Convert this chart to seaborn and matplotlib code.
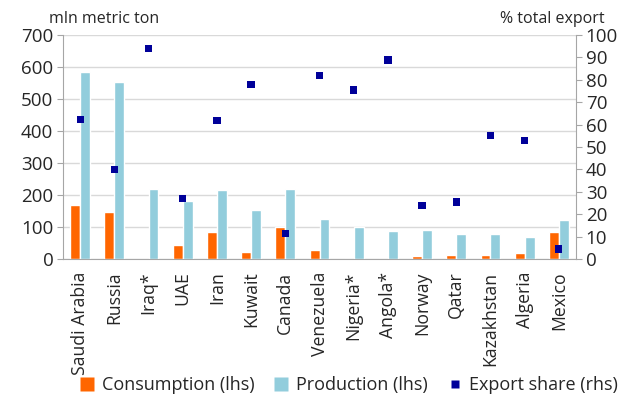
import numpy as np
import pandas as pd
import matplotlib
matplotlib.use("Agg")
import matplotlib.pyplot as plt
from matplotlib.lines import Line2D
from matplotlib.ticker import FixedLocator
import seaborn as sns

countries = ["Saudi Arabia", "Russia", "Iraq*", "UAE", "Iran", "Kuwait", "Canada",
             "Venezuela", "Nigeria*", "Angola*", "Norway", "Qatar", "Kazakhstan",
             "Algeria", "Mexico"]
consumption = [168, 148, 0, 44, 84, 23, 101, 28, 0, 0, 10, 12, 13, 19, 83]
production = [584, 554, 218, 181, 216, 152, 218, 124, 99, 88, 90, 79, 79, 68, 122]
export_share = [62.2, 40.0, 93.9, 27.0, 61.9, 78.0, 11.5, 82.0, 75.4, 88.8,
                24.0, 25.4, 55.0, 53.0, 4.5]

series_names = ["Consumption (lhs)", "Production (lhs)"]
bar_colors = ["#FF6600", "#92CDDC"]
marker_color = "#000099"

long = pd.DataFrame({
    "country": countries * 2,
    "series": [series_names[0]] * len(countries) + [series_names[1]] * len(countries),
    "value": consumption + production,
})

sns.set_style("white")
plt.rcParams["font.family"] = ["Open Sans", "DejaVu Sans"]

fig = plt.figure(figsize=(6.29, 4.03), dpi=100)
ax = fig.add_axes([0.1002, 0.3573, 0.8155, 0.5559])

sns.barplot(data=long, x="country", y="value", hue="series", order=countries,
            hue_order=series_names, palette=bar_colors, width=0.58, gap=0,
            saturation=1, legend=False, ax=ax, zorder=2)

ax.set_ylim(0, 700)
ax.set_xlim(-0.5, len(countries) - 0.5)
ax.set_yticks(range(0, 701, 100))
ax.yaxis.grid(True, color="#D9D9D9", linewidth=1.0, zorder=0)
ax.set_axisbelow(True)
ax.set_xlabel("")
ax.set_ylabel("")

grey = "#A6A6A6"
for side in ["top", "right"]:
    ax.spines[side].set_visible(False)
ax.spines["left"].set_color(grey)
ax.spines["bottom"].set_color(grey)

ax.tick_params(axis="y", direction="out", length=4, color=grey, labelsize=13.5,
               labelcolor="#262626", pad=3)
ax.tick_params(axis="x", which="major", length=0, labelsize=12.7, labelrotation=90,
               labelcolor="#262626", pad=9)
ax.xaxis.set_minor_locator(FixedLocator(np.arange(-0.5, len(countries), 1.0)))
ax.tick_params(axis="x", which="minor", direction="out", length=5, color=grey)

ax2 = ax.twinx()
sns.scatterplot(x=np.arange(len(countries)), y=export_share, marker="s", s=27,
                color=marker_color, edgecolor="none", ax=ax2, zorder=3)
ax2.set_ylim(0, 100)
ax2.set_yticks(range(0, 101, 10))
ax2.grid(False)
for side in ["top", "left", "bottom"]:
    ax2.spines[side].set_visible(False)
ax2.spines["right"].set_color(grey)
ax2.tick_params(axis="y", direction="out", length=4, color=grey, labelsize=13.5,
                labelcolor="#262626", pad=3)
ax2.set_xlim(-0.5, len(countries) - 0.5)

fig.text(0.078, 0.953, "mln metric ton", fontsize=11.5, color="#262626",
         ha="left", va="center")
fig.text(0.962, 0.953, "% total export", fontsize=11.5, color="#262626",
         ha="right", va="center")

handles = [
    Line2D([], [], linestyle="none", marker="s", markersize=10,
           markerfacecolor=bar_colors[0], markeredgecolor="none"),
    Line2D([], [], linestyle="none", marker="s", markersize=10,
           markerfacecolor=bar_colors[1], markeredgecolor="none"),
    Line2D([], [], linestyle="none", marker="s", markersize=6,
           markerfacecolor=marker_color, markeredgecolor="none"),
]
fig.legend(handles, series_names + ["Export share (rhs)"], loc="center",
           bbox_to_anchor=(0.555, 0.045), ncol=3, frameon=False, fontsize=13,
           handlelength=0.8, handletextpad=0.4, columnspacing=1.1,
           labelcolor="#262626")

fig.savefig("out.png", dpi=100)
